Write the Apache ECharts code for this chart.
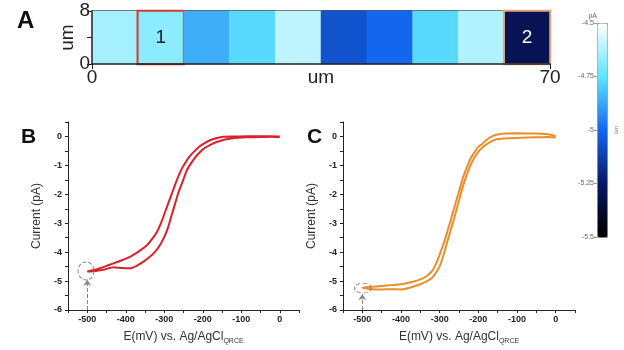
<!DOCTYPE html>
<html>
<head>
    <meta charset="utf-8">
    <title>Scan line and voltammograms</title>
    <script type="text/javascript" src="https://cdn.jsdelivr.net/npm/echarts@6/dist/echarts.min.js"></script>
</head>
<body style="margin:0;background:#fff;">
    <div id="main" style="width:624px;height:350px;"></div>
    <script type="text/javascript">
    // panel A: 10 cells of 7 um along the scan line, current in pA
    var cellNames = ['0', '1', '2', '3', '4', '5', '6', '7', '8', '9'];
    var cellValues = [-4.64, -4.68, -4.86, -4.77, -4.6, -5.06, -5.0, -4.77, -4.62, -5.28];
    var cellLabels = ['', '1', '', '', '', '', '', '', '', '2'];

    // panel B (site 1): forward scan 0 -> -500 mV, then reverse
    var bFwdE = [0, -50, -86, -120, -147, -165, -181, -195, -207, -220, -233, -244, -255, -266, -276, -287, -298, -308, -319, -332, -345, -367, -389, -410, -432, -455, -478, -500];
    var bFwdI = [0.0, 0.01, 0.01, 0.0, -0.01, -0.06, -0.13, -0.23, -0.33, -0.49, -0.67, -0.88, -1.13, -1.47, -1.82, -2.22, -2.62, -2.98, -3.3, -3.55, -3.76, -3.98, -4.16, -4.28, -4.39, -4.5, -4.6, -4.67];
    var bRevE = [-500, -478, -455, -432, -410, -389, -370, -354, -339, -324, -311, -298, -289, -281, -272, -263, -252, -242, -231, -220, -207, -194, -179, -164, -147, -130, -100, -86, -50, -20, 0];
    var bRevI = [-4.67, -4.65, -4.6, -4.52, -4.55, -4.56, -4.46, -4.33, -4.18, -3.99, -3.75, -3.42, -3.1, -2.73, -2.33, -1.93, -1.55, -1.19, -0.94, -0.73, -0.54, -0.39, -0.28, -0.19, -0.12, -0.08, -0.04, -0.03, -0.02, -0.01, -0.03];

    // panel C (site 2)
    var cFwdE = [0, -20, -50, -100, -130, -150, -165, -180, -190, -200, -210, -220, -230, -240, -250, -260, -270, -280, -290, -300, -310, -320, -335, -350, -375, -400, -425, -450, -475, -500];
    var cFwdI = [0.02, 0.08, 0.1, 0.11, 0.1, 0.07, 0.0, -0.13, -0.26, -0.36, -0.55, -0.76, -1.08, -1.44, -1.9, -2.36, -2.82, -3.28, -3.72, -4.08, -4.42, -4.66, -4.84, -4.94, -5.04, -5.11, -5.14, -5.17, -5.2, -5.23];
    var cRevE = [-500, -475, -450, -425, -400, -375, -350, -335, -320, -310, -300, -290, -280, -270, -260, -250, -240, -230, -220, -210, -200, -190, -180, -165, -150, -125, -100, -50, -20, 0];
    var cRevI = [-5.24, -5.28, -5.29, -5.28, -5.29, -5.22, -5.11, -5.02, -4.89, -4.72, -4.49, -4.1, -3.63, -3.17, -2.71, -2.22, -1.73, -1.33, -0.99, -0.73, -0.53, -0.39, -0.28, -0.16, -0.09, -0.06, -0.05, -0.03, -0.02, -0.04];

    // start points circled in the figure
    var bStart = [-503, -4.65];
    var cStart = [-498, -5.24];
    var bArrowTop = -4.95;
    var cArrowTop = -5.45;

    var markColors = {'1': '#d23a32', '2': '#e3a878'};
    var labelColors = {'1': '#222', '2': '#fff'};
    var font = 'Liberation Sans, Arial, sans-serif';

    function pairs(es, is) {
        var out = [];
        for (var i = 0; i < es.length; i++) {
            out.push([es[i], is[i]]);
        }
        return out;
    }

    var heatData = [];
    for (var i = 0; i < cellValues.length; i++) {
        var item = {value: [i, 0, cellValues[i]]};
        var lab = cellLabels[i];
        if (lab) {
            item.itemStyle = {borderColor: markColors[lab], borderWidth: 2};
            item.label = {show: true, formatter: lab, color: labelColors[lab], fontSize: 19, fontFamily: font};
        }
        heatData.push(item);
    }

    function ivXAxis(grid) {
        return {
            type: 'value', gridIndex: grid, min: -550, max: 50, interval: 50,
            name: 'E(mV) vs. Ag/AgCl{sub|QRCE}',
            nameLocation: 'middle', nameGap: 19, nameMoveOverlap: false,
            nameTextStyle: {
                fontSize: 12, color: '#333', fontFamily: font,
                rich: {sub: {fontSize: 7, color: '#333', fontFamily: font, padding: [9, 0, 0, 0]}}
            },
            axisLine: {onZero: false, lineStyle: {color: '#222', width: 1}},
            axisTick: {length: 3, lineStyle: {color: '#222'}},
            axisLabel: {
                fontSize: 9, fontWeight: 'bold', color: '#222', fontFamily: font, margin: 5,
                formatter: function (v) { return v % 100 === 0 ? String(v) : ''; }
            },
            splitLine: {show: false}
        };
    }
    function ivYAxis(grid) {
        return {
            type: 'value', gridIndex: grid, min: -6, max: 0.5, interval: 0.5,
            name: 'Current (pA)', nameLocation: 'middle', nameGap: 25, nameMoveOverlap: false,
            nameTextStyle: {fontSize: 12, color: '#333', fontFamily: font},
            axisLine: {show: true, onZero: false, lineStyle: {color: '#222', width: 1}},
            axisTick: {show: true, length: 3, lineStyle: {color: '#222'}},
            axisLabel: {
                fontSize: 9, fontWeight: 'bold', color: '#222', fontFamily: font, margin: 6,
                formatter: function (v) { return Number.isInteger(v) ? String(v) : ''; }
            },
            splitLine: {show: false}
        };
    }
    function ivSeries(grid, es1, is1, es2, is2, color, start, arrowTop, circleSize) {
        return {
            type: 'line', xAxisIndex: grid, yAxisIndex: grid,
            data: pairs(es1, is1).concat(pairs(es2, is2)),
            showSymbol: false, smooth: 0.2,
            lineStyle: {color: color, width: 2},
            markPoint: {
                symbol: 'circle', symbolSize: circleSize, silent: true,
                itemStyle: {color: 'rgba(0,0,0,0)', borderColor: '#888', borderWidth: 1, borderType: 'dashed'},
                label: {show: false},
                data: [{coord: start}]
            },
            markLine: {
                silent: true, symbol: ['none', 'arrow'], symbolSize: 6,
                lineStyle: {color: '#888', type: 'dashed', width: 1},
                label: {show: false},
                data: [[{coord: [-500, -6]}, {coord: [-500, arrowTop]}]]
            }
        };
    }

    var myChart = echarts.init(document.getElementById('main'));
    var option = {
        animation: false,
        title: [
            {text: 'A', left: 12, top: 4, textStyle: {fontSize: 24, fontWeight: 'bold', color: '#111', fontFamily: font}},
            {text: 'B', left: 16, top: 122, textStyle: {fontSize: 21, fontWeight: 'bold', color: '#111', fontFamily: font}},
            {text: 'C', left: 302, top: 122, textStyle: {fontSize: 21, fontWeight: 'bold', color: '#111', fontFamily: font}}
        ],
        grid: [
            {left: 92, top: 11, width: 458, height: 53},
            {left: 92, top: 11, width: 458, height: 53},
            {left: 597, top: 23, width: 10, height: 214},
            {left: 68, top: 122, width: 231, height: 190},
            {left: 343, top: 122, width: 232, height: 190}
        ],
        visualMap: {
            type: 'continuous', seriesIndex: 0, min: -5.5, max: -4.5,
            left: 597, top: 23, itemWidth: 10, itemHeight: 214, padding: 0,
            text: null, calculable: false, showLabel: false,
            borderColor: '#999', borderWidth: 1,
            inRange: {color: ['#000000', '#081660', '#1466ee', '#5ee4ff', '#ffffff']}
        },
        xAxis: [
            {type: 'category', gridIndex: 0, data: cellNames, show: false},
            {
                type: 'value', gridIndex: 1, min: 0, max: 70, interval: 70, z: 3,
                name: 'um', nameLocation: 'middle', nameGap: 4, nameMoveOverlap: false,
                nameTextStyle: {fontSize: 19, color: '#222', fontFamily: font, verticalAlign: 'top'},
                axisLine: {onZero: false, lineStyle: {color: '#222', width: 1.5}},
                axisTick: {length: 5, lineStyle: {color: '#222'}},
                axisLabel: {fontSize: 19, color: '#222', fontFamily: font, margin: 4},
                splitLine: {show: false}
            },
            {
                type: 'value', gridIndex: 1, min: 0, max: 70, position: 'top', z: 1,
                axisLine: {onZero: false, lineStyle: {color: '#222', width: 1.5}},
                axisTick: {show: false}, axisLabel: {show: false}, splitLine: {show: false}
            },
            {type: 'value', gridIndex: 2, show: false},
            ivXAxis(3),
            ivXAxis(4)
        ],
        yAxis: [
            {type: 'category', gridIndex: 0, data: ['0'], show: false},
            {
                type: 'value', gridIndex: 1, min: 0, max: 8, interval: 4, z: 3,
                name: 'um', nameLocation: 'middle', nameGap: 15, nameMoveOverlap: false,
                nameTextStyle: {fontSize: 19, color: '#222', fontFamily: font},
                axisLine: {show: true, onZero: false, lineStyle: {color: '#222', width: 1.5}},
                axisTick: {show: true, length: 5, lineStyle: {color: '#222'}},
                axisLabel: {
                    fontSize: 19, color: '#222', fontFamily: font, margin: 2,
                    formatter: function (v) { return v === 4 ? '' : String(v); }
                },
                splitLine: {show: false}
            },
            {
                type: 'value', gridIndex: 2, min: -5.5, max: -4.5, interval: 0.25, z: 5,
                name: 'pA', nameGap: 3,
                nameTextStyle: {fontSize: 7, color: '#666', fontFamily: font, align: 'right'},
                axisLine: {show: false},
                axisTick: {show: true, length: 3, lineStyle: {color: '#999'}},
                axisLabel: {fontSize: 7, color: '#666', fontFamily: font, margin: 3},
                splitLine: {show: false}
            },
            {
                type: 'value', gridIndex: 2, min: -5.5, max: -4.5, position: 'right',
                name: 'um', nameLocation: 'middle', nameGap: 7, nameRotate: -90, nameMoveOverlap: false,
                nameTextStyle: {fontSize: 6, color: '#777', fontFamily: font},
                axisLine: {show: false}, axisTick: {show: false}, axisLabel: {show: false}, splitLine: {show: false}
            },
            ivYAxis(3),
            ivYAxis(4)
        ],
        series: [
            {
                type: 'heatmap', xAxisIndex: 0, yAxisIndex: 0,
                data: heatData,
                label: {show: false},
                emphasis: {disabled: true}
            },
            ivSeries(4, bFwdE, bFwdI, bRevE, bRevI, '#d8212a', bStart, bArrowTop, [16, 18]),
            ivSeries(5, cFwdE, cFwdI, cRevE, cRevI, '#ea8d2b', cStart, cArrowTop, [17, 10])
        ]
    };
    myChart.setOption(option);
    </script>
</body>
</html>
